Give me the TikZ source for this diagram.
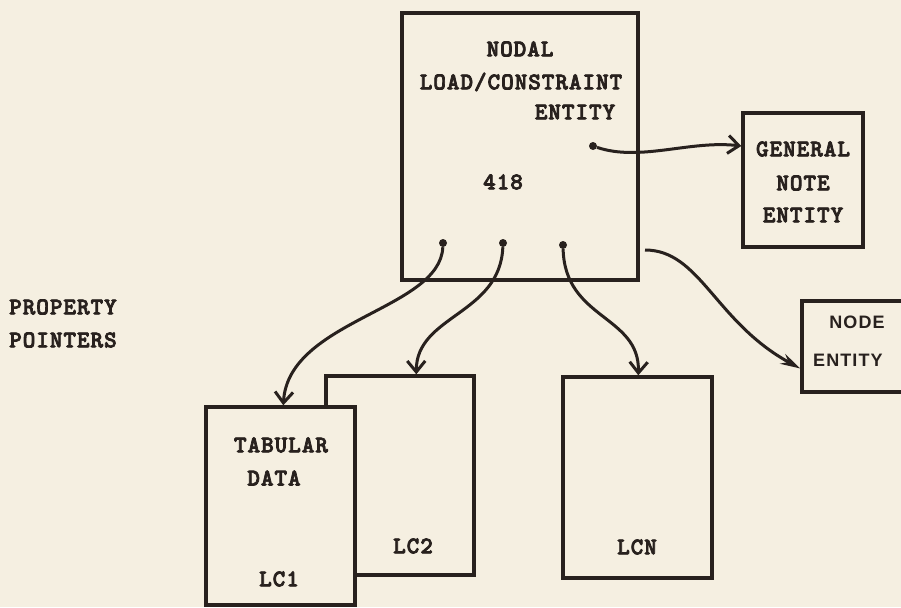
\documentclass[tikz,border=0pt]{standalone}
\usepackage{fontspec}
\newfontfamily\tw[LetterSpace=4,FakeBold=3]{lmmonolt10-bold.otf}
\newfontfamily\sw[LetterSpace=6]{Liberation Sans Bold}
\usetikzlibrary{arrows.meta}
\definecolor{paper}{RGB}{245,239,225}
\definecolor{ink}{RGB}{40,33,30}
\begin{document}
\begin{tikzpicture}[x=1pt,y=-1pt,
  box/.style={draw=ink,line width=3.4pt,fill=paper,inner sep=0pt},
  lbl/.style={text=ink,font=\tw\fontsize{24}{24}\selectfont,inner sep=0pt},
  slbl/.style={text=ink,font=\sw\fontsize{18}{18}\selectfont,inner sep=0pt},
  dotn/.style={circle,fill=ink,inner sep=0pt,minimum size=8pt},
  wire/.style={draw=ink,line width=3pt},
  openarr/.style={wire,-{Straight Barb[length=11pt,width=18pt,line width=3pt]}},
  fillarr/.style={wire,-{Stealth[length=20pt,width=11pt]}}]
\fill[paper] (0,0) rectangle (901,607);
\useasboundingbox (0,0) rectangle (901,607);
% boxes
\node[box,minimum width=236pt,minimum height=267pt] (main) at (520,146.5) {};
\node[box,minimum width=120pt,minimum height=134pt] (gen) at (803,180) {};
\node[box,minimum width=110pt,minimum height=91pt] (nodeent) at (857,346.5) {};
\node[box,minimum width=148pt,minimum height=199pt] (lc2) at (400,475.5) {};
\node[box,minimum width=149pt,minimum height=198pt] (lc1) at (280.5,506) {};
\node[box,minimum width=149pt,minimum height=201pt] (lcn) at (637.5,477.5) {};
% texts
\node[lbl] (t1) at (520,49) {NODAL};
\node[lbl] (t2) at (521,82) {LOAD/CONSTRAINT};
\node[lbl] (t3) at (575,112) {ENTITY};
\node[lbl] (t4) at (503,182) {418};
\node[lbl] (g1) at (803,149) {GENERAL};
\node[lbl] (g2) at (803,183) {NOTE};
\node[lbl] (g3) at (803,215) {ENTITY};
\node[slbl] (n1) at (857,322) {NODE};
\node[slbl,anchor=west] (n2) at (813,360) {ENTITY};
\node[lbl,anchor=west] (p1) at (9,307) {PROPERTY};
\node[lbl,anchor=west] (p2) at (9,340) {POINTERS};
\node[lbl] (a1) at (281,445) {TABULAR};
\node[lbl] (a2) at (274,478) {DATA};
\node[lbl] (a3) at (279,579) {LC1};
\node[lbl] (a4) at (413,546) {LC2};
\node[lbl] (a5) at (637,547) {LCN};
% pointer dots
\node[dotn] (d1) at (443,243) {};
\node[dotn] (d2) at (503,243) {};
\node[dotn] (d3) at (563,245) {};
\node[dotn] (d4) at (593,146) {};
% connectors
\draw[openarr] (d1) .. controls (440,310) and (288,320) .. ([xshift=79pt]lc1.north west);
\draw[openarr] (d2) .. controls (500,315) and (416,315) .. ([xshift=92pt]lc2.north west);
\draw[openarr] (d3) .. controls (565,320) and (640,315) .. ([xshift=77pt]lcn.north west);
\draw[openarr] (d4) .. controls (640,162) and (690,140) .. (gen.west |- 0,146);
\coordinate (s5) at (645,250);
\draw[fillarr] (s5) .. controls (700,250) and (715,322) .. ([yshift=-22pt]nodeent.west);
\end{tikzpicture}
\end{document}
